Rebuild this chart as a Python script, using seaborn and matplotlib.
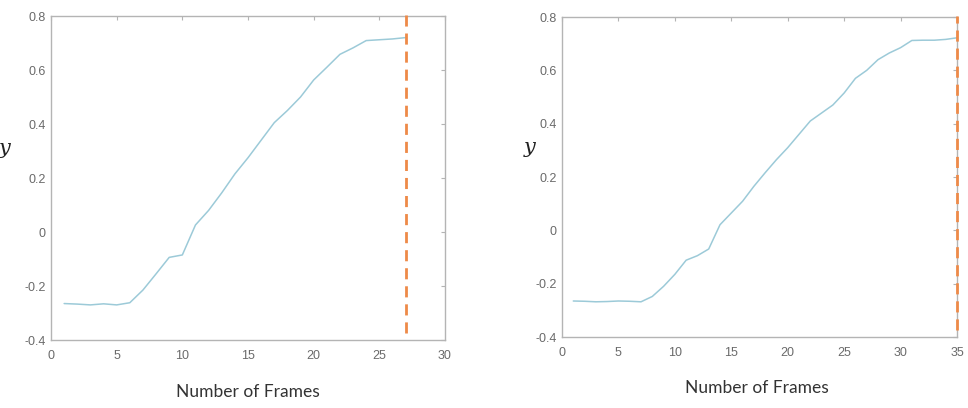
import pandas as pd
import matplotlib
matplotlib.use("Agg")
import matplotlib.pyplot as plt
import seaborn as sns

# trajectory values
frames_a = list(range(1, 28))
y_a = [-0.265, -0.267, -0.270, -0.266, -0.270, -0.262, -0.215, -0.155, -0.094, -0.085,
       0.026, 0.080, 0.145, 0.215, 0.275, 0.340, 0.405, 0.450, 0.500, 0.563,
       0.610, 0.658, 0.682, 0.709, 0.712, 0.715, 0.720]

frames_b = list(range(1, 36))
y_b = [-0.265, -0.266, -0.268, -0.267, -0.265, -0.266, -0.268, -0.248, -0.210, -0.165,
       -0.112, -0.095, -0.070, 0.021, 0.065, 0.109, 0.165, 0.216, 0.265, 0.310,
       0.360, 0.410, 0.440, 0.470, 0.515, 0.570, 0.600, 0.640, 0.665, 0.685,
       0.712, 0.713, 0.713, 0.716, 0.722]

# dashed marker: frame where the sequence ends, and its vertical extent
cut_a = 27
cut_b = 35
cut_span = [-0.375, 0.805]

xlims = [30, 35]
xticks_a = [0, 5, 10, 15, 20, 25, 30]
xticks_b = [0, 5, 10, 15, 20, 25, 30, 35]
yticks = [-0.4, -0.2, 0, 0.2, 0.4, 0.6, 0.8]
ytick_labels = ["-0.4", "-0.2", "0", "0.2", "0.4", "0.6", "0.8"]

sns.set_style("white")
plt.rcParams['font.family'] = ['Liberation Sans', 'DejaVu Sans']

fig = plt.figure(figsize=(9.68, 4.08), dpi=100)
ax1 = fig.add_axes([51 / 968, 1 - 340 / 408, 394 / 968, 324 / 408])
ax2 = fig.add_axes([562 / 968, 1 - 337 / 408, 395 / 968, 320 / 408])

line_color = "#9ccad8"
dash_color = "#ee8a48"
frame_color = "#b4b4b4"

panels = [
    (ax1, frames_a, y_a, cut_a, xlims[0], xticks_a, (-0.117, 0.562), (0.5, -0.136)),
    (ax2, frames_b, y_b, cut_b, xlims[1], xticks_b, (-0.081, 0.562), (0.494, -0.134)),
]

for ax, fr, yv, cut, xmax, xt, ylab_pos, xlab_pos in panels:
    df = pd.DataFrame({"frame": fr, "y": yv})
    sns.lineplot(data=df, x="frame", y="y", ax=ax, color=line_color, linewidth=1.1)
    ax.plot([cut, cut], cut_span, color=dash_color, linewidth=2, linestyle=(0, (4, 2.5)),
            clip_on=False, zorder=5)
    ax.set_xlim(0, xmax)
    ax.set_ylim(-0.4, 0.8)
    ax.set_xticks(xt)
    ax.set_yticks(yticks)
    ax.set_yticklabels(ytick_labels)
    ax.tick_params(direction="in", length=3, width=0.8, colors=frame_color,
                   labelcolor="#6a6a6a", labelsize=9, top=True, right=True,
                   labeltop=False, labelright=False, pad=4)
    ax.tick_params(axis="x", pad=7)
    for sp in ax.spines.values():
        sp.set_color(frame_color)
        sp.set_linewidth(1)
    ax.set_xlabel("Number of Frames", fontsize=12.5, color="#333333",
                  family=["Lato", "DejaVu Sans"])
    ax.xaxis.set_label_coords(*xlab_pos)
    ax.set_ylabel("y", fontsize=15, rotation=0, style="italic", color="#222222",
                  family=["DejaVu Serif"])
    ax.yaxis.set_label_coords(*ylab_pos)

fig.savefig("out.png", dpi=100)
